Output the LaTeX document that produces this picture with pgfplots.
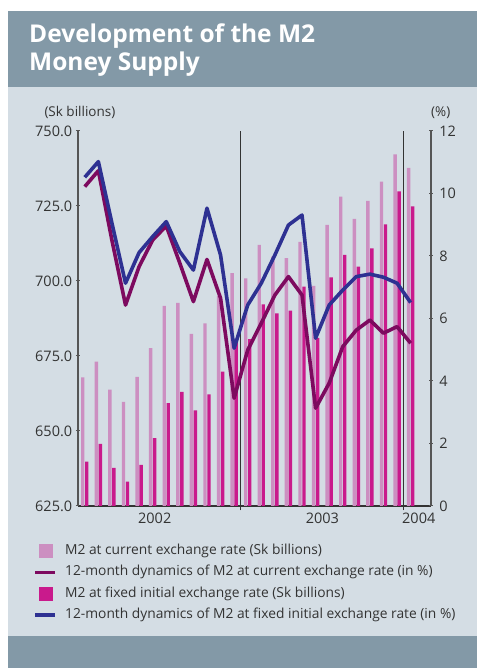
\documentclass[border=0pt]{standalone}
\usepackage{fontspec}
\setmainfont{Open Sans}
\usepackage{pgfplots}
\pgfplotsset{compat=1.18}
\definecolor{band}{HTML}{8399A7}
\definecolor{plotbg}{HTML}{D4DDE4}
\definecolor{lightbar}{HTML}{CC8FC1}
\definecolor{darkbar}{HTML}{C91A8C}
\definecolor{purpleline}{HTML}{7D0A5F}
\definecolor{blueline}{HTML}{2E3192}
\definecolor{txt}{HTML}{333333}
\definecolor{axgray}{HTML}{555555}
\begin{document}
\begin{tikzpicture}[x=1pt,y=1pt]
\path[use as bounding box] (0,0) rectangle (477,668);
\fill[band] (8,581) rectangle (477,657);
\fill[plotbg] (8,32) rectangle (477,581);
\fill[band] (8,0) rectangle (477,32);
\node[anchor=base west, inner sep=0pt, text=white, font=\fontsize{24.5}{29}\selectfont\bfseries] at (29,625.3) {Development of the M2};
\node[anchor=base west, inner sep=0pt, text=white, font=\fontsize{24.5}{29}\selectfont\bfseries] at (29,597) {Money Supply};
\node[anchor=base west, inner sep=0pt, text=txt, font=\fontsize{13.5}{15}\selectfont] at (44.3,551) {(Sk billions)};
\node[anchor=base west, inner sep=0pt, text=txt, font=\fontsize{13.5}{15}\selectfont] at (431,551) {(\%)};

\begin{axis}[
  at={(78pt,162pt)}, anchor=south west,
  scale only axis, width=353pt, height=375pt,
  xmin=-0.5, xmax=25.5, ymin=625, ymax=750,
  axis x line*=bottom, axis y line*=left,
  x axis line style={txt, line width=1.1pt},
  y axis line style={axgray, line width=1.1pt},
  major tick length=4.5pt,
  ytick={625,650,675,700,725,750},
  yticklabels={625.0,650.0,675.0,700.0,725.0,750.0},
  y tick style={axgray, line width=1pt},
  ytick align=center,
  yticklabel style={font=\fontsize{14.5}{16}\selectfont, text=txt},
  xtick={11.5,23.5}, xticklabels={,},
  x tick style={txt, line width=1pt},
  xtick align=outside,
  extra x ticks={5.15,17.5,24.6},
  extra x tick labels={2002,2003,2004},
  extra x tick style={major tick length=0pt, xticklabel style={yshift=-3pt}},
  xticklabel style={font=\fontsize{14.5}{16}\selectfont, text=txt},
  clip=true,
]
\addplot[ybar, bar width=3.4pt, bar shift=-2pt, fill=lightbar, draw=none] coordinates {
(0,667.9) (1,673.1) (2,663.8) (3,659.7) (4,668.0) (5,677.6) (6,691.7) (7,692.7) (8,682.4) (9,685.9) (10,695.0) (11,702.6)
(12,700.9) (13,712.0) (14,708.1) (15,707.6) (16,713.0) (17,698.4) (18,718.7) (19,728.1) (20,720.7) (21,726.7) (22,733.1) (23,742.2)
(24,737.7)};
\addplot[ybar, bar width=3.4pt, bar shift=2pt, fill=darkbar, draw=none] coordinates {
(0,639.8) (1,645.7) (2,637.7) (3,633.1) (4,638.7) (5,647.6) (6,659.3) (7,663.0) (8,656.9) (9,662.2) (10,669.8) (11,680.0)
(12,680.6) (13,692.2) (14,689.2) (15,690.1) (16,698.1) (17,681.0) (18,701.2) (19,708.7) (20,704.8) (21,710.9) (22,718.9) (23,729.9)
(24,724.9)};
\addplot[txt, line width=1pt] coordinates {(11.5,625) (11.5,750)};
\addplot[txt, line width=1pt] coordinates {(23.5,625) (23.5,750)};
\end{axis}

\begin{axis}[
  at={(78pt,162pt)}, anchor=south west,
  scale only axis, width=353pt, height=375pt,
  xmin=-0.5, xmax=25.5, ymin=0, ymax=12,
  axis x line=none, axis y line*=right,
  y axis line style={axgray, line width=1.1pt},
  major tick length=3.5pt,
  ytick={0,2,4,6,8,10,12},
  yticklabels={0,2,4,6,8,10,12},
  y tick style={axgray, line width=1pt},
  ytick align=center,
  yticklabel style={font=\fontsize{14.5}{16}\selectfont, text=txt, xshift=3pt},
  legend style={at={(-0.1266,-0.1013)}, anchor=north west, draw=none, fill=none, inner sep=0pt,
     font=\fontsize{13.8}{15}\selectfont, text=txt, row sep=7.3pt,
     nodes={inner sep=0pt, text height=10pt, text depth=3.5pt}},
  legend cell align=left,
  /tikz/every odd column/.append style={column sep=8.4pt},
]
\addlegendimage{legend image code/.code={\path[draw=none,fill=none] (0pt,-7pt) rectangle (20pt,7pt); \fill[lightbar, draw=none] (3.5pt,-6.8pt) rectangle (17.5pt,6.8pt);}}
\addlegendentry{M2 at current exchange rate (Sk billions)}
\addplot[purpleline, line width=3.6pt, line join=round, mark=none,
  legend image code/.code={\path[draw=none,fill=none] (0pt,-7pt) rectangle (20pt,7pt); \draw[purpleline, line width=3.2pt] (0pt,0pt) -- (20pt,0pt);}] coordinates {
(0,10.22) (1,10.73) (2,8.50) (3,6.43) (4,7.66) (5,8.51) (6,8.96) (7,7.77) (8,6.54) (9,7.89) (10,6.65) (11,3.45)
(12,4.99) (13,5.85) (14,6.75) (15,7.34) (16,6.75) (17,3.13) (18,3.93) (19,5.10) (20,5.63) (21,5.95) (22,5.53) (23,5.74)
(24,5.21)};
\addlegendentry{12-month dynamics of M2 at current exchange rate (in \%)}
\addlegendimage{legend image code/.code={\path[draw=none,fill=none] (0pt,-7pt) rectangle (20pt,7pt); \fill[darkbar, draw=none] (3.5pt,-6.8pt) rectangle (17.5pt,6.8pt);}}
\addlegendentry{M2 at fixed initial exchange rate (Sk billions)}
\addplot[blueline, line width=3.6pt, line join=round, mark=none,
  legend image code/.code={\path[draw=none,fill=none] (0pt,-7pt) rectangle (20pt,7pt); \draw[blueline, line width=3.2pt] (0pt,0pt) -- (20pt,0pt);}] coordinates {
(0,10.52) (1,11.02) (2,9.05) (3,7.13) (4,8.11) (5,8.62) (6,9.10) (7,8.14) (8,7.55) (9,9.53) (10,8.03) (11,5.05)
(12,6.43) (13,7.13) (14,8.03) (15,8.99) (16,9.31) (17,5.37) (18,6.43) (19,6.91) (20,7.34) (21,7.42) (22,7.32) (23,7.13)
(24,6.51)};
\addlegendentry{12-month dynamics of M2 at fixed initial exchange rate (in \%)}
\end{axis}
\end{tikzpicture}
\end{document}
